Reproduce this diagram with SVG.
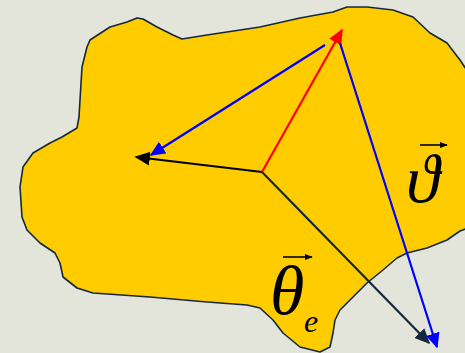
<svg xmlns="http://www.w3.org/2000/svg" width="465" height="353" viewBox="0 0 465 353">
<style>
.lbl{font-family:"Liberation Serif","Times New Roman",serif;font-style:italic;fill:#000}
.v{fill:none;stroke-width:2.2}
</style>
<defs>
<marker id="aBlue" viewBox="0 0 10 10" refX="9" refY="5" markerWidth="7" markerHeight="7" orient="auto" markerUnits="strokeWidth"><path d="M0,0.5L10,5L0,9.5z" fill="#0000ff"/></marker>
<marker id="aRed" viewBox="0 0 10 10" refX="9" refY="5" markerWidth="7" markerHeight="7" orient="auto" markerUnits="strokeWidth"><path d="M0,0.5L10,5L0,9.5z" fill="#ff0000"/></marker>
<marker id="aBlk" viewBox="0 0 10 10" refX="9" refY="5" markerWidth="7" markerHeight="7" orient="auto" markerUnits="strokeWidth"><path d="M0,0.5L10,5L0,9.5z" fill="#000"/></marker>
<marker id="aNavy" viewBox="0 0 10 10" refX="9" refY="5" markerWidth="7" markerHeight="7" orient="auto" markerUnits="strokeWidth"><path d="M0,0.5L10,5L0,9.5z" fill="#14283c"/></marker>
<marker id="aSmall" viewBox="0 0 10 10" refX="9" refY="5" markerWidth="5" markerHeight="5" orient="auto" markerUnits="strokeWidth"><path d="M0,1L10,5L0,9z" fill="#000"/></marker>
</defs>
<rect width="465" height="353" fill="#e4e5da"/>
<g id="body">
<path d="M87,47 L90,40 L110,27 L127,22 L137,18 L143,19 L157,27 L173,35 L182,39 L207,35 L260,27 L300,18 L333,12 L347,7 L367,7 L393,10 L413,17 L430,33 L447,43 L460,60 L468,72 L468,228 L460,231 L447,240 L427,248 L407,253 L397,258 L383,270 L367,283 L353,297 L340,310 L335,320 L333,333 L330,347 L320,352 L300,347 L283,333 L273,320 L260,308 L247,305 L207,302 L150,297 L93,293 L77,288 L63,277 L60,263 L55,253 L40,243 L27,230 L22,217 L20,187 L23,167 L33,153 L50,143 L62,137 L77,128 L79,117 L80,100 L82,67 Z" fill="#ffcc00" stroke="#14283c" stroke-width="1.6" stroke-linejoin="round"/>
</g>
<g id="connectors">
<line class="v" x1="262" y1="172" x2="429" y2="343" stroke="#14283c" marker-end="url(#aNavy)"/>
<line class="v" x1="262" y1="172" x2="136" y2="157" stroke="#000" marker-end="url(#aBlk)"/>
<line class="v" x1="262" y1="172" x2="342" y2="30" stroke="#ff0000" marker-end="url(#aRed)"/>
<line class="v" x1="325" y1="45" x2="151" y2="155" stroke="#0000ff" marker-end="url(#aBlue)"/>
<line class="v" x1="340" y1="43" x2="437" y2="347" stroke="#0000ff" marker-end="url(#aBlue)"/>
</g>
<g id="label-vartheta">
<text class="lbl" x="406" y="202" font-size="68">ϑ</text>
<line x1="420" y1="145" x2="447" y2="145" stroke="#000" stroke-width="1.6" marker-end="url(#aSmall)"/>
</g>
<g id="label-theta-e">
<text class="lbl" x="270" y="314" font-size="70">θ</text>
<text class="lbl" x="304" y="332" font-size="32">e</text>
<line x1="283" y1="257" x2="312" y2="257" stroke="#000" stroke-width="1.6" marker-end="url(#aSmall)"/>
</g>
</svg>
